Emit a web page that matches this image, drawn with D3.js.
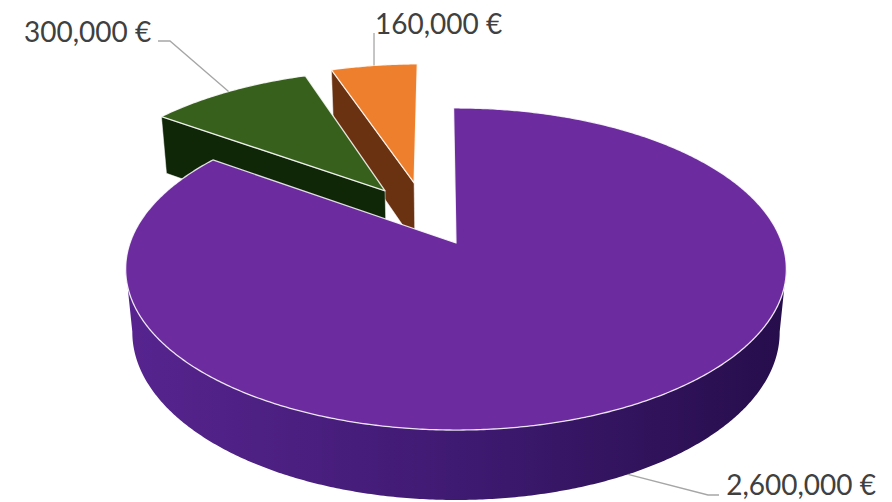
<!DOCTYPE html>
<html>
<head>
<meta charset="utf-8">
<script src="https://cdn.jsdelivr.net/npm/d3@7"></script>
<style>
  html, body { margin: 0; padding: 0; background: #fff; }
  svg { display: block; }
  .label { font-family: Lato, sans-serif; font-size: 28px; fill: #404040; }
</style>
</head>
<body>
<svg id="pie3d"></svg>
<script>
const values = [2600000, 300000, 160000];
const labels = ["2,600,000 €", "300,000 €", "160,000 €"];

const topColors = ["#6c2c9f", "#37601c", "#ee7f2c"];
const sideColors = ["url(#purpleSide)", "#0f2607", "#6a3210"];

const width = 892;
const height = 502;
const rad = Math.PI / 180;

const svg = d3.select("#pie3d").attr("width", width).attr("height", height);

// camera: projective mapping of the unit disc, z=0 top face, z=1 bottom face
const cam = {cx: 456, ax: 326, ay: 117.6, cy: 243, tilt: -0.1615, dz: 0.02, depth: 68.65};

function project(u, v, z) {
    const w = 1 + cam.tilt * v + cam.dz * z;
    return [cam.cx + cam.ax * u / w, (cam.ay * v + cam.cy + cam.depth * z) / w];
}

// exploded offset and radius of each slice on the disc
const pull = [[0, 0], [-0.23, -0.352], [-0.137, -0.408]];
const radius = [1, 0.992, 0.992];

const slices = d3.pie().sort(null)
    .startAngle(-0.5 * rad)
    .endAngle(359.5 * rad)(values);

function rim(i, angle, z) {
    return project(pull[i][0] + radius[i] * Math.sin(angle), pull[i][1] - radius[i] * Math.cos(angle), z);
}
function apex(i, z) {
    return project(pull[i][0], pull[i][1], z);
}
function sweep(a0, a1) {
    const n = Math.ceil(Math.abs(a1 - a0) / (0.5 * rad));
    return d3.range(n + 1).map(k => a0 + (a1 - a0) * k / n);
}

const line = d3.line();

const grad = svg.append("defs").append("linearGradient")
    .attr("id", "purpleSide")
    .attr("gradientUnits", "userSpaceOnUse")
    .attr("x1", 126).attr("x2", 787).attr("y1", 0).attr("y2", 0);
grad.append("stop").attr("offset", 0).attr("stop-color", "#57248f");
grad.append("stop").attr("offset", 0.5).attr("stop-color", "#3f1a72");
grad.append("stop").attr("offset", 1).attr("stop-color", "#260d4b");

const g = svg.append("g");

function topFace(i) {
    const s = slices[i];
    const pts = [apex(i, 0)].concat(sweep(s.startAngle, s.endAngle).map(a => rim(i, a, 0)));
    g.append("path")
        .attr("d", line(pts) + "Z")
        .style("fill", topColors[i])
        .style("stroke", "#fff")
        .style("stroke-opacity", 0.85)
        .style("stroke-width", 1.3)
        .style("stroke-linejoin", "round");
}

// flat wall along the left cut of an exploded slice
function cutWall(i) {
    const a = slices[i].startAngle;
    g.append("path")
        .attr("d", line([rim(i, a, 0), apex(i, 0), apex(i, 1), rim(i, a, 1)]) + "Z")
        .style("fill", sideColors[i])
        .style("stroke", "#fff")
        .style("stroke-opacity", 0.5)
        .style("stroke-width", 1);
}

// curved wall of the big slice, between the two silhouette points
function roundWall(i) {
    const angles = sweep(99 * rad, 261 * rad);
    const pts = angles.map(a => rim(i, a, 0))
        .concat(angles.slice().reverse().map(a => rim(i, a, 1)));
    g.append("path")
        .attr("d", line(pts) + "Z")
        .style("fill", sideColors[i]);
}

// back to front
cutWall(2);
topFace(2);
cutWall(1);
topFace(1);
roundWall(0);
topFace(0);

// labels and leader lines
const labelPos = [
    {x: 876, y: 495, anchor: "end", z: 1},
    {x: 24, y: 42, anchor: "start", z: 0},
    {x: 375, y: 34, anchor: "start", z: 0}
];
const leaderPts = [
    (p) => [p, [708, 495], [719, 495]],
    (p) => [p, [170, 41], [158, 41]],
    (p) => [p, [p[0], 33]]
];

slices.forEach((s, i) => {
    const mid = (s.startAngle + s.endAngle) / 2;
    const p = rim(i, mid, labelPos[i].z);
    g.append("path")
        .attr("d", line(leaderPts[i](p)))
        .style("fill", "none")
        .style("stroke", "#a6a6a6")
        .style("stroke-width", 1.3);
    svg.append("text")
        .attr("class", "label")
        .attr("x", labelPos[i].x)
        .attr("y", labelPos[i].y)
        .attr("text-anchor", labelPos[i].anchor)
        .text(labels[i]);
});
</script>
</body>
</html>
